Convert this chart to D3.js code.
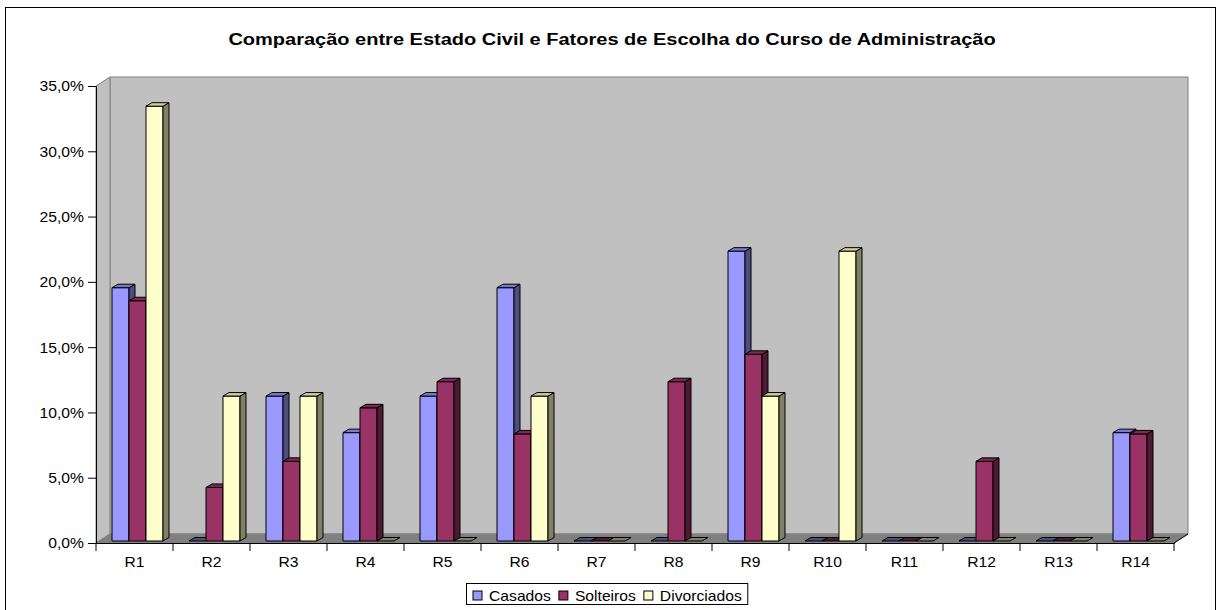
<!DOCTYPE html>
<html lang="pt">
<head>
    <meta charset="UTF-8">
    <title>Comparação entre Estado Civil e Fatores de Escolha do Curso de Administração</title>
    <script src="https://cdnjs.cloudflare.com/ajax/libs/d3/7.8.5/d3.min.js"></script>
    <style>
        body { margin: 0; background: white; font-family: Arial, "Liberation Sans", sans-serif; }
        svg { display: block; }
    </style>
</head>
<body>
    <svg id="chart" width="1217" height="610"></svg>

    <script>
        // data
        const categories = ["R1", "R2", "R3", "R4", "R5", "R6", "R7", "R8", "R9", "R10", "R11", "R12", "R13", "R14"];
        const seriesNames = ["Casados", "Solteiros", "Divorciados"];
        const casados     = [0.194, 0, 0.111, 0.083, 0.111, 0.194, 0, 0, 0.222, 0, 0, 0, 0, 0.083];
        const solteiros   = [0.184, 0.041, 0.061, 0.102, 0.122, 0.082, 0, 0.122, 0.143, 0, 0, 0.061, 0, 0.082];
        const divorciados = [0.333, 0.111, 0.111, 0, 0, 0.111, 0, 0, 0.111, 0.222, 0, 0, 0, 0];
        const yTicks = [0, 0.05, 0.10, 0.15, 0.20, 0.25, 0.30, 0.35];

        const seriesValues = [casados, solteiros, divorciados];
        const colors = {
            front: ["#9999ff", "#993366", "#ffffcc"],
            top:   ["#7a7acc", "#7a2952", "#cccca3"],
            side:  ["#4d4d80", "#4d1a33", "#808066"]
        };

        const svg = d3.select("#chart");
        const stretch = 1.12;

        // outer frame
        svg.append("rect")
            .attr("x", 5.5).attr("y", 7.5)
            .attr("width", 1210).attr("height", 620)
            .attr("fill", "white").attr("stroke", "#000");

        // title
        svg.append("text")
            .attr("transform", "translate(612,45) scale(1.25,1)")
            .attr("text-anchor", "middle")
            .style("font-size", "16px")
            .style("font-weight", "bold")
            .text("Comparação entre Estado Civil e Fatores de Escolha do Curso de Administração");

        const x = d3.scaleBand().domain(categories).range([96, 1174]);
        const xSub = d3.scaleBand().domain(seriesNames).range([13, x.bandwidth() - 13]);
        const y = d3.scaleLinear().domain([0, 0.35]).range([543, 86]);

        // 3D offsets
        const wallDx = 14, wallDy = 9;
        const barShiftX = 3, barShiftY = 2;
        const barDx = 6, barDy = 3.5;

        const [x0, x1] = x.range();
        const yb = y(0), yt = y(0.35);

        // walls and floor
        svg.append("polygon")
            .attr("points", [[x0 + wallDx, yt - wallDy], [x1 + wallDx, yt - wallDy], [x1 + wallDx, yb - wallDy], [x0 + wallDx, yb - wallDy]].join(" "))
            .attr("fill", "#c0c0c0").attr("stroke", "#808080");
        svg.append("polygon")
            .attr("points", [[x0, yt], [x0 + wallDx, yt - wallDy], [x0 + wallDx, yb - wallDy], [x0, yb]].join(" "))
            .attr("fill", "#c0c0c0").attr("stroke", "#808080");
        svg.append("polygon")
            .attr("points", [[x0, yb], [x0 + wallDx, yb - wallDy], [x1 + wallDx, yb - wallDy], [x1, yb]].join(" "))
            .attr("fill", "#808080").attr("stroke", "#808080");

        // bars
        const bars = svg.append("g").attr("stroke", "#000").attr("stroke-width", 1).attr("stroke-linejoin", "round");
        categories.forEach((cat, i) => {
            seriesNames.forEach((name, s) => {
                const v = seriesValues[s][i];
                const bx = x(cat) + xSub(name) + barShiftX;
                const w = xSub.bandwidth();
                const base = y(0) - barShiftY;
                const top = y(v) - barShiftY;

                if (v > 0) {
                    bars.append("rect")
                        .attr("x", bx).attr("y", top)
                        .attr("width", w).attr("height", base - top)
                        .attr("fill", colors.front[s]);
                    bars.append("polygon")
                        .attr("points", [[bx + w, top], [bx + w + barDx, top - barDy], [bx + w + barDx, base - barDy], [bx + w, base]].join(" "))
                        .attr("fill", colors.side[s]);
                }
                bars.append("polygon")
                    .attr("points", [[bx, top], [bx + barDx, top - barDy], [bx + w + barDx, top - barDy], [bx + w, top]].join(" "))
                    .attr("fill", v > 0 ? colors.top[s] : colors.side[s]);
            });
        });

        // axes
        const fmt = d3.formatLocale({ decimal: ",", thousands: ".", grouping: [3], currency: ["", ""] }).format(".1%");

        const yAxis = svg.append("g").attr("transform", `translate(${x0},0)`)
            .call(d3.axisLeft(y).tickValues(yTicks).tickSize(8).tickPadding(4).tickFormat(fmt));
        yAxis.select(".domain").attr("stroke", "#000");
        yAxis.selectAll(".tick line").attr("stroke", "#000");
        yAxis.selectAll(".tick text")
            .attr("font-family", "Arial, 'Liberation Sans', sans-serif")
            .attr("font-size", 14).attr("fill", "#000")
            .attr("transform", `translate(-12,0) scale(${stretch},1)`)
            .attr("x", 0).attr("dy", "0.35em");

        const xAxis = svg.append("g").attr("transform", `translate(0,${yb})`)
            .call(d3.axisBottom(x).tickSize(0).tickPadding(14));
        xAxis.select(".domain").attr("stroke", "#000");
        xAxis.selectAll(".tick text")
            .attr("font-family", "Arial, 'Liberation Sans', sans-serif")
            .attr("font-size", 14).attr("fill", "#000")
            .attr("transform", `scale(${stretch},1)`)
            .attr("x", 0);

        // category tick marks on band boundaries
        const bounds = categories.map(c => x(c)).concat([x1]);
        svg.append("g").selectAll("line").data(bounds).join("line")
            .attr("x1", d => d).attr("x2", d => d)
            .attr("y1", yb).attr("y2", yb + 8)
            .attr("stroke", "#000");
        svg.append("line")
            .attr("x1", x1).attr("y1", yb).attr("x2", x1 + wallDx).attr("y2", yb - wallDy)
            .attr("stroke", "#000");

        // legend
        const legend = svg.append("g");
        let lx = 473;
        const ly = 591;
        seriesNames.forEach((name, s) => {
            legend.append("rect")
                .attr("x", lx).attr("y", ly)
                .attr("width", 9).attr("height", 9)
                .attr("fill", colors.front[s]).attr("stroke", "#000");
            const t = legend.append("text")
                .attr("transform", `translate(${lx + 16},${ly + 9.5}) scale(${stretch},1)`)
                .style("font-size", "14px")
                .text(name);
            lx += 16 + t.node().getComputedTextLength() * stretch + 8;
        });
        legend.insert("rect", ":first-child")
            .attr("x", 466.5).attr("y", 583.5)
            .attr("width", lx - 466.5 - 2).attr("height", 21)
            .attr("fill", "white").attr("stroke", "#000");
    </script>
</body>
</html>
